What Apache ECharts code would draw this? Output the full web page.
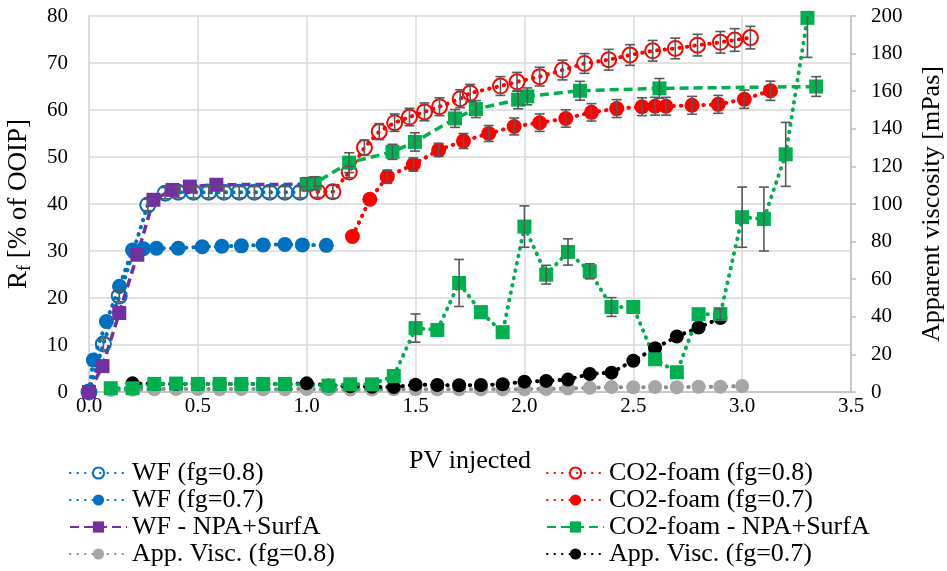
<!DOCTYPE html>
<html>
<head>
<meta charset="utf-8">
<title>Oil recovery and apparent viscosity vs PV injected</title>
<script src="https://cdn.jsdelivr.net/npm/echarts@6/dist/echarts.min.js"></script>
<style>
  html, body { margin: 0; padding: 0; background: #fff; }
  #chart { width: 947px; height: 571px; }
</style>
</head>
<body>
<div id="chart"></div>
<script>
// ---- Recovery factor, left axis [% of OOIP] ----
const wf08X = [0, 0.066, 0.139, 0.27, 0.35, 0.41, 0.48, 0.55, 0.62, 0.69, 0.76, 0.83, 0.90, 0.97];
const wf08Y = [0, 10.2, 20.4, 39.8, 42.3, 42.5, 42.5, 42.5, 42.5, 42.5, 42.5, 42.5, 42.5, 42.5];
const wf08Err = [0, 1.2, 1.2, 1.2, 1.2, 1.2, 1.2, 1.2, 1.2, 1.2, 1.2, 1.2, 1.2, 1.2];

const wf07X = [0, 0.02, 0.08, 0.14, 0.2, 0.25, 0.31, 0.41, 0.52, 0.61, 0.70, 0.80, 0.90, 0.98, 1.09];
const wf07Y = [0, 6.8, 15, 22.5, 30.2, 30.5, 30.6, 30.6, 30.9, 31.0, 31.1, 31.3, 31.4, 31.3, 31.2];

const wfNpaX = [0, 0.062, 0.139, 0.222, 0.296, 0.384, 0.463, 0.585, 1.0];
const wfNpaY = [0, 5.5, 16.8, 29.2, 40.9, 43.0, 43.7, 44.1, 44.2];

const co08X = [1.05, 1.12, 1.195, 1.265, 1.333, 1.404, 1.472, 1.541, 1.61, 1.705, 1.751, 1.89, 1.966, 2.07, 2.175, 2.276, 2.387, 2.485, 2.589, 2.693, 2.795, 2.90, 2.966, 3.038];
const co08Y = [42.6, 42.6, 46.8, 52.0, 55.4, 57.3, 58.5, 59.6, 60.7, 62.4, 63.6, 65.1, 66.0, 67.1, 68.5, 69.9, 70.7, 71.7, 72.6, 73.1, 73.8, 74.4, 74.9, 75.4];
const co08Err = [1.2, 1.35, 1.2, 1.6, 1.7, 1.85, 1.85, 1.9, 1.9, 1.9, 1.85, 2.0, 2.0, 2.0, 2.1, 2.1, 2.2, 2.2, 2.2, 2.2, 2.3, 2.3, 2.4, 2.4];

const co07X = [1.21, 1.29, 1.37, 1.49, 1.606, 1.72, 1.836, 1.953, 2.07, 2.19, 2.308, 2.424, 2.54, 2.60, 2.65, 2.77, 2.89, 3.01, 3.13];
const co07Y = [33.1, 41.0, 45.8, 48.4, 51.5, 53.4, 55.0, 56.5, 57.3, 58.2, 59.5, 60.3, 60.7, 60.8, 60.8, 61.0, 61.2, 62.3, 64.1];
const co07Err = [0, 0, 1.4, 1.4, 1.4, 1.6, 1.7, 1.8, 1.85, 1.85, 1.85, 1.9, 1.9, 1.9, 1.9, 1.9, 1.9, 1.95, 2.05];

const coNpaX = [1.002, 1.037, 1.195, 1.394, 1.497, 1.681, 1.777, 1.971, 2.013, 2.255, 2.62, 3.34];
const coNpaY = [44.2, 44.4, 48.8, 51.1, 53.2, 58.2, 60.2, 62.2, 62.9, 64.1, 64.6, 65.0];
const coNpaErr = [1.4, 1.4, 2.1, 1.6, 1.95, 1.9, 1.8, 1.95, 1.8, 2.0, 2.1, 2.1];

// ---- Apparent viscosity, right axis [mPas] ----
const visc08X = [0.1, 0.2, 0.3, 0.4, 0.5, 0.6, 0.7, 0.8, 0.9, 1.0, 1.1, 1.2, 1.3, 1.4, 1.5, 1.6, 1.7, 1.8, 1.9, 2.0, 2.1, 2.2, 2.3, 2.4, 2.5, 2.6, 2.7, 2.8, 2.9, 3.0];
const visc08Y = [1.0, 1.2, 1.5, 1.6, 1.6, 1.5, 1.6, 1.5, 1.5, 1.6, 1.4, 1.3, 1.3, 1.4, 1.4, 1.4, 1.5, 1.5, 1.5, 1.5, 1.6, 1.8, 2.2, 2.6, 2.5, 2.6, 2.5, 2.8, 2.8, 3.2];

const visc07X = [0.2, 0.3, 0.4, 0.5, 0.6, 0.7, 0.8, 0.9, 1.0, 1.1, 1.2, 1.3, 1.4, 1.5, 1.6, 1.7, 1.8, 1.9, 2.0, 2.1, 2.2, 2.3, 2.4, 2.5, 2.6, 2.7, 2.8, 2.9];
const visc07Y = [4.6, 4.2, 4.2, 4.2, 4.2, 4.2, 4.2, 4.2, 4.6, 3.5, 3.0, 2.8, 2.6, 3.9, 3.7, 3.6, 3.7, 4.1, 5.5, 5.9, 6.6, 9.6, 10.3, 16.6, 23.3, 29.5, 34.3, 39.3];

const viscNpaX = [0.1, 0.2, 0.3, 0.4, 0.5, 0.6, 0.7, 0.8, 0.9, 1.1, 1.2, 1.3, 1.4, 1.5, 1.6, 1.7, 1.8, 1.9, 2.0, 2.1, 2.2, 2.3, 2.4, 2.5, 2.6, 2.7, 2.8, 2.9, 3.0, 3.1, 3.2, 3.3];
const viscNpaY = [2.0, 2.0, 4.3, 4.5, 4.3, 4.3, 4.3, 4.3, 4.3, 3.4, 4.1, 4.1, 8.5, 34, 33, 58, 42.5, 31.8, 88, 62.4, 74.5, 64.2, 45.2, 45.2, 17.4, 10.5, 41.4, 41.4, 93, 92, 126.4, 199];
const viscNpaErr = [0, 0, 0, 0, 0, 0, 0, 0, 0, 0, 0, 0, 0, 7.5, 0, 12.5, 0, 0, 11, 5, 7, 4, 5, 0, 0, 0, 0, 3, 16, 17, 17, 21];

// ---- Axis ticks ----
const xTicks = { min: 0, max: 3.5, step: 0.5 };
const yLeftTicks = { min: 0, max: 80, step: 10 };
const yRightTicks = { min: 0, max: 200, step: 20 };

const FONT = 'Liberation Serif';
const C = {
  blue: '#0070C0', red: '#FF0000', purple: '#7030A0', green: '#00B050',
  grayMark: '#A6A6A6', grayLine: '#8C8C8C', black: '#000000', err: '#595959', grid: '#D9D9D9'
};

const pairs = (xs, ys) => xs.map((x, i) => [x, ys[i]]);
const dotted = (color) => ({ color, width: 4, type: [0.5, 7], cap: 'round' });
const dashed = (color) => ({ color, width: 3.5, type: [9, 5], cap: 'butt' });

function lineSeries(name, xs, ys, opts) {
  return Object.assign({
    type: 'line', name, data: pairs(xs, ys), showSymbol: true,
    symbolSize: 14, animation: false, smooth: false
  }, opts);
}

// vertical error bars with short caps, drawn on top of the markers
function errorSeries(id, xs, ys, errs, yAxisIndex) {
  return {
    type: 'custom', name: id, yAxisIndex, z: 5, silent: true, animation: false,
    data: xs.map((x, i) => [x, ys[i], errs[i]]).filter(d => d[2] > 0),
    encode: { x: 0, y: 1 },
    renderItem(params, api) {
      const x = api.value(0), y = api.value(1), e = api.value(2);
      const top = api.coord([x, y + e]);
      const bot = api.coord([x, y - e]);
      const topY = Math.max(top[1], params.coordSys.y);
      const hw = 5;
      const style = { stroke: C.err, lineWidth: 1.6 };
      const children = [
        { type: 'line', shape: { x1: top[0], y1: topY, x2: bot[0], y2: bot[1] }, style },
        { type: 'line', shape: { x1: bot[0] - hw, y1: bot[1], x2: bot[0] + hw, y2: bot[1] }, style }
      ];
      if (top[1] >= params.coordSys.y) {
        children.push({ type: 'line', shape: { x1: top[0] - hw, y1: top[1], x2: top[0] + hw, y2: top[1] }, style });
      }
      return { type: 'group', children };
    }
  };
}

const series = [
  lineSeries('WF (fg=0.8)', wf08X, wf08Y, {
    symbol: 'circle', symbolSize: 15,
    itemStyle: { color: 'rgba(255,255,255,0)', borderColor: C.blue, borderWidth: 2 },
    lineStyle: dotted(C.blue)
  }),
  lineSeries('WF (fg=0.7)', wf07X, wf07Y, {
    symbol: 'circle', symbolSize: 15,
    itemStyle: { color: C.blue }, lineStyle: dotted(C.blue)
  }),
  lineSeries('CO2-foam (fg=0.8)', co08X, co08Y, {
    symbol: 'circle', symbolSize: 15,
    itemStyle: { color: 'rgba(255,255,255,0)', borderColor: C.red, borderWidth: 2 },
    lineStyle: dotted(C.red)
  }),
  lineSeries('CO2-foam (fg=0.7)', co07X, co07Y, {
    symbol: 'circle', symbolSize: 15,
    itemStyle: { color: C.red }, lineStyle: dotted(C.red)
  }),
  lineSeries('App. Visc. (fg=0.8)', visc08X, visc08Y, {
    yAxisIndex: 1, symbol: 'circle', symbolSize: 14,
    itemStyle: { color: C.grayMark }, lineStyle: dotted(C.grayLine)
  }),
  lineSeries('App. Visc. (fg=0.7)', visc07X, visc07Y, {
    yAxisIndex: 1, symbol: 'circle', symbolSize: 14,
    itemStyle: { color: C.black }, lineStyle: dotted(C.black)
  }),
  lineSeries('WF - NPA+SurfA', wfNpaX, wfNpaY, {
    symbol: 'rect', symbolSize: 14,
    itemStyle: { color: C.purple }, lineStyle: dashed(C.purple)
  }),
  lineSeries('CO2-foam - NPA+SurfA', coNpaX, coNpaY, {
    symbol: 'rect', symbolSize: 14,
    itemStyle: { color: C.green }, lineStyle: dashed(C.green)
  }),
  lineSeries('App. Visc. - NPA+SurfA', viscNpaX, viscNpaY, {
    yAxisIndex: 1, symbol: 'rect', symbolSize: 14,
    itemStyle: { color: C.green }, lineStyle: dotted(C.green)
  }),
  errorSeries('wf08-err', wf08X, wf08Y, wf08Err, 0),
  errorSeries('co08-err', co08X, co08Y, co08Err, 0),
  errorSeries('co07-err', co07X, co07Y, co07Err, 0),
  errorSeries('coNpa-err', coNpaX, coNpaY, coNpaErr, 0),
  errorSeries('viscNpa-err', viscNpaX, viscNpaY, viscNpaErr, 1)
];

const legendBase = {
  orient: 'vertical', top: 455, height: 116, padding: 5,
  itemWidth: 57, itemHeight: 14, itemGap: 1,
  selectedMode: false,
  textStyle: { fontFamily: FONT, fontSize: 26, color: '#000' }
};

const option = {
  backgroundColor: '#fff',
  animation: false,
  grid: { left: 89, right: 96, top: 16, bottom: 179, outerBoundsMode: 'none', containLabel: false },
  xAxis: {
    type: 'value', min: xTicks.min, max: xTicks.max, interval: xTicks.step,
    name: 'PV injected', nameLocation: 'middle', nameGap: 56,
    nameTextStyle: { fontFamily: FONT, fontSize: 26, color: '#000' },
    axisLine: { show: true, lineStyle: { color: '#BFBFBF', width: 1.5 } },
    axisTick: { show: false },
    axisLabel: { fontFamily: FONT, fontSize: 21, color: '#000', margin: 4,
      formatter: v => v.toFixed(1) },
    splitLine: { show: true, lineStyle: { color: C.grid, width: 1.5 } }
  },
  yAxis: [
    {
      type: 'value', min: yLeftTicks.min, max: yLeftTicks.max, interval: yLeftTicks.step,
      name: '{a|R}{b|f}{a| [% of OOIP]}', nameLocation: 'middle', nameGap: 55, nameRotate: 90,
      nameTextStyle: {
        color: '#000',
        rich: {
          a: { fontFamily: FONT, fontSize: 27, color: '#000', lineHeight: 30, verticalAlign: 'middle' },
          b: { fontFamily: FONT, fontSize: 18, color: '#000', lineHeight: 30, verticalAlign: 'bottom' }
        }
      },
      axisLine: { show: true, lineStyle: { color: C.grid, width: 1.5 } },
      axisTick: { show: false },
      axisLabel: { fontFamily: FONT, fontSize: 21, color: '#000', margin: 21 },
      splitLine: { show: true, lineStyle: { color: C.grid, width: 1.5 } }
    },
    {
      type: 'value', min: yRightTicks.min, max: yRightTicks.max, interval: yRightTicks.step,
      position: 'right',
      name: 'Apparent viscosity [mPas]', nameLocation: 'middle', nameGap: 68, nameRotate: 90,
      nameTextStyle: { fontFamily: FONT, fontSize: 26, color: '#000' },
      axisLine: { show: true, lineStyle: { color: '#BFBFBF', width: 1.5 } },
      axisTick: { show: true, inside: false, length: 5, lineStyle: { color: '#BFBFBF', width: 1.5 } },
      axisLabel: { fontFamily: FONT, fontSize: 21, color: '#000', margin: 20 },
      splitLine: { show: false }
    }
  ],
  legend: [
    Object.assign({}, legendBase, {
      left: 64, width: 330,
      data: ['WF (fg=0.8)', 'WF (fg=0.7)', 'WF - NPA+SurfA', 'App. Visc. (fg=0.8)']
    }),
    Object.assign({}, legendBase, {
      left: 541, width: 400,
      data: ['CO2-foam (fg=0.8)', 'CO2-foam (fg=0.7)', 'CO2-foam - NPA+SurfA', 'App. Visc. (fg=0.7)']
    })
  ],
  series
};

const chart = echarts.init(document.getElementById('chart'), null, { renderer: 'canvas' });
chart.setOption(option);
</script>
</body>
</html>
